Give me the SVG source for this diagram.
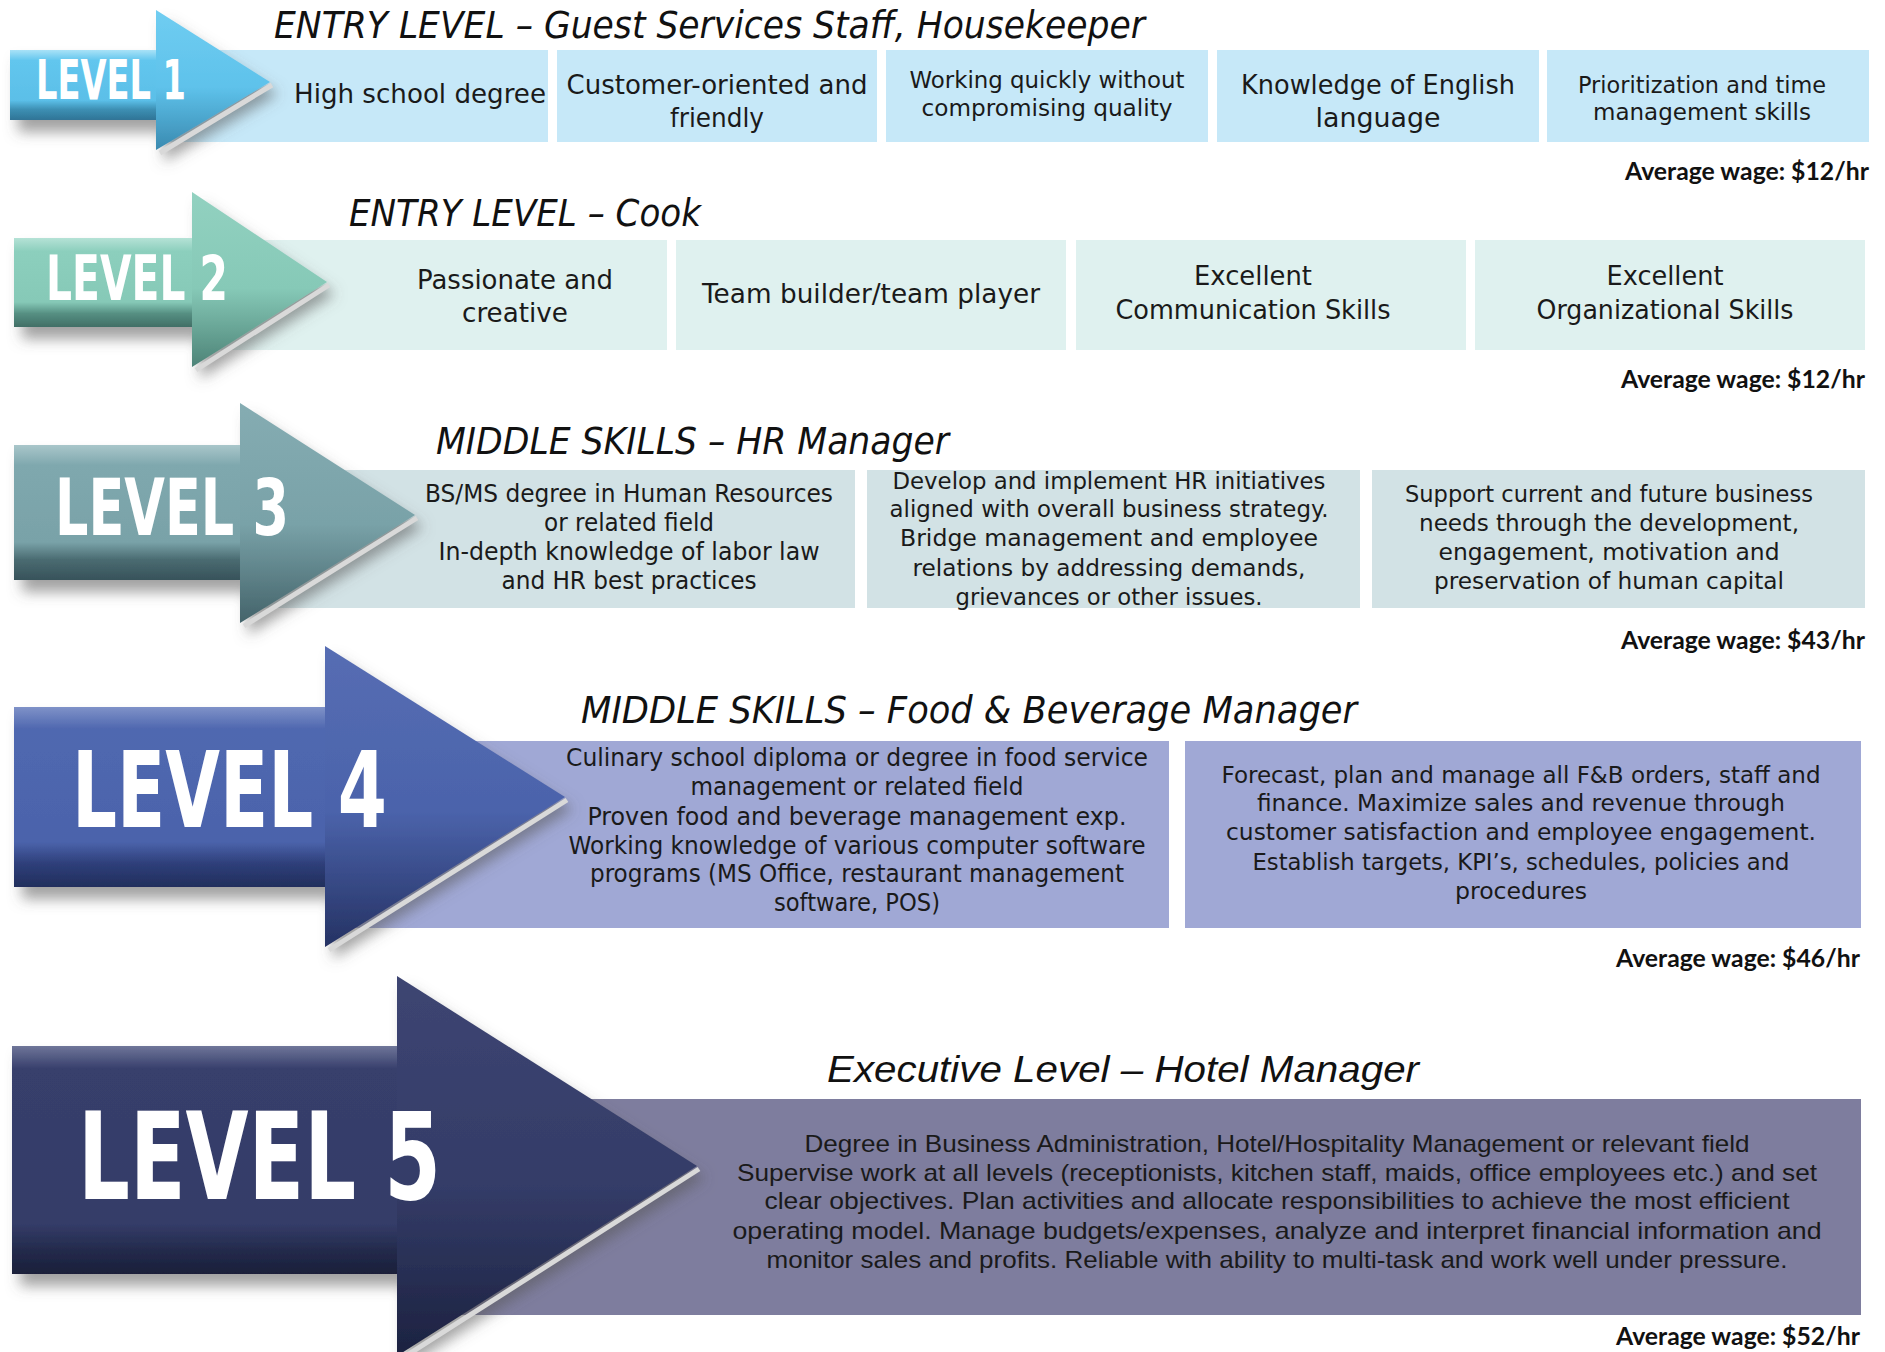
<svg xmlns="http://www.w3.org/2000/svg" width="1885" height="1352" viewBox="0 0 1885 1352">
<style>
.lvl{font-family:"Liberation Sans Narrow","DejaVu Sans Condensed","Liberation Sans",sans-serif;font-weight:bold;fill:#ffffff}
.ttl{font-family:"Liberation Sans Narrow","DejaVu Sans Condensed","Liberation Sans",sans-serif;font-style:italic;fill:#111;font-size:37px}
.ttl5{font-family:"Liberation Sans","DejaVu Sans",sans-serif;font-style:italic;fill:#111;font-size:36px}
.geo{font-family:"DejaVu Sans","Liberation Sans",sans-serif;fill:#1a1a1a;text-anchor:middle}
.cnd{font-family:"Liberation Sans Narrow","DejaVu Sans Condensed","Liberation Sans",sans-serif;fill:#1a1a1a;text-anchor:middle;font-size:25px}
.nar{font-family:"Liberation Sans","DejaVu Sans",sans-serif;fill:#1a1a1a;text-anchor:middle;font-size:24px}
.wage{font-family:"Lato","Open Sans",sans-serif;font-weight:bold;font-size:24px;fill:#111;text-anchor:end}
.bevel{fill:none;stroke:#d9d9d9;stroke-width:5}
</style>
<defs>
<filter id="sh" x="-10%" y="-10%" width="130%" height="140%">
<feDropShadow dx="8" dy="12" stdDeviation="7" flood-color="#555" flood-opacity="0.55"/>
</filter>
<linearGradient id="s1" x1="0" y1="0" x2="0" y2="1"><stop offset="0" stop-color="#a9e2f7"/><stop offset="0.15" stop-color="#62c6ee"/><stop offset="0.72" stop-color="#5bbfe8"/><stop offset="0.85" stop-color="#3d8fb3"/><stop offset="1" stop-color="#2f7496"/></linearGradient>
<linearGradient id="h1" x1="0" y1="0" x2="0" y2="1"><stop offset="0" stop-color="#70cdf1"/><stop offset="0.55" stop-color="#5ec2eb"/><stop offset="1" stop-color="#3a8ab0"/></linearGradient>
<linearGradient id="s2" x1="0" y1="0" x2="0" y2="1"><stop offset="0" stop-color="#b5e2d6"/><stop offset="0.15" stop-color="#8ccfbd"/><stop offset="0.72" stop-color="#86c9b7"/><stop offset="0.85" stop-color="#558f82"/><stop offset="1" stop-color="#416f66"/></linearGradient>
<linearGradient id="h2" x1="0" y1="0" x2="0" y2="1"><stop offset="0" stop-color="#92d1c0"/><stop offset="0.55" stop-color="#86c9b7"/><stop offset="1" stop-color="#4d8377"/></linearGradient>
<linearGradient id="s3" x1="0" y1="0" x2="0" y2="1"><stop offset="0" stop-color="#a9c6ca"/><stop offset="0.15" stop-color="#7fa8ae"/><stop offset="0.72" stop-color="#79a2a8"/><stop offset="0.85" stop-color="#4a6b71"/><stop offset="1" stop-color="#37525a"/></linearGradient>
<linearGradient id="h3" x1="0" y1="0" x2="0" y2="1"><stop offset="0" stop-color="#85acb2"/><stop offset="0.55" stop-color="#79a2a8"/><stop offset="1" stop-color="#44636a"/></linearGradient>
<linearGradient id="s4" x1="0" y1="0" x2="0" y2="1"><stop offset="0" stop-color="#7f92c8"/><stop offset="0.12" stop-color="#5068b0"/><stop offset="0.75" stop-color="#4b63ab"/><stop offset="0.87" stop-color="#2e3f7a"/><stop offset="1" stop-color="#222e5c"/></linearGradient>
<linearGradient id="h4" x1="0" y1="0" x2="0" y2="1"><stop offset="0" stop-color="#566db3"/><stop offset="0.55" stop-color="#4b63ab"/><stop offset="1" stop-color="#253263"/></linearGradient>
<linearGradient id="s5" x1="0" y1="0" x2="0" y2="1"><stop offset="0" stop-color="#6f7699"/><stop offset="0.1" stop-color="#373f6c"/><stop offset="0.78" stop-color="#343c68"/><stop offset="0.9" stop-color="#232a4b"/><stop offset="1" stop-color="#1a1f3a"/></linearGradient>
<linearGradient id="h5" x1="0" y1="0" x2="0" y2="1"><stop offset="0" stop-color="#3d4572"/><stop offset="0.55" stop-color="#343c68"/><stop offset="1" stop-color="#1c2240"/></linearGradient>
</defs>
<rect width="1885" height="1352" fill="#ffffff"/>

<g id="level1">
<text class="ttl" x="274" y="38" textLength="871" lengthAdjust="spacingAndGlyphs">ENTRY LEVEL – Guest Services Staff, Housekeeper</text>
<g id="l1b1"><rect x="156" y="50" width="392" height="92" fill="#c6e8f8"/><text class="geo" x="420" y="103" font-size="27" textLength="252" lengthAdjust="spacingAndGlyphs">High school degree</text></g>
<g id="l1b2"><rect x="557" y="50" width="320" height="92" fill="#c6e8f8"/><text class="geo" x="717" y="94" font-size="27" textLength="301" lengthAdjust="spacingAndGlyphs">Customer-oriented and</text><text class="geo" x="717" y="127" font-size="27" textLength="94" lengthAdjust="spacingAndGlyphs">friendly</text></g>
<g id="l1b3"><rect x="886" y="50" width="322" height="92" fill="#c6e8f8"/><text class="geo" x="1047" y="88" font-size="23" textLength="275" lengthAdjust="spacingAndGlyphs">Working quickly without</text><text class="geo" x="1047" y="116" font-size="23" textLength="251" lengthAdjust="spacingAndGlyphs">compromising quality</text></g>
<g id="l1b4"><rect x="1217" y="50" width="322" height="92" fill="#c6e8f8"/><text class="geo" x="1378" y="94" font-size="27" textLength="274" lengthAdjust="spacingAndGlyphs">Knowledge of English</text><text class="geo" x="1378" y="127" font-size="27" textLength="125" lengthAdjust="spacingAndGlyphs">language</text></g>
<g id="l1b5"><rect x="1547" y="50" width="322" height="92" fill="#c6e8f8"/><text class="geo" x="1702" y="93" font-size="23" textLength="248" lengthAdjust="spacingAndGlyphs">Prioritization and time</text><text class="geo" x="1702" y="120" font-size="23" textLength="218" lengthAdjust="spacingAndGlyphs">management skills</text></g>
<g id="l1arrow" filter="url(#sh)"><rect x="10" y="50" width="150" height="70" fill="url(#s1)"/><polygon points="156,10 270,82 156,150" fill="url(#h1)"/></g>
<polyline class="bevel" points="272,85 160,153"/>
<text class="lvl" x="36" y="99" font-size="56" textLength="150" lengthAdjust="spacingAndGlyphs">LEVEL 1</text>
<text class="wage" x="1869" y="180" textLength="244" lengthAdjust="spacingAndGlyphs">Average wage: $12/hr</text>
</g>

<g id="level2">
<text class="ttl" x="349" y="226" textLength="352" lengthAdjust="spacingAndGlyphs">ENTRY LEVEL – Cook</text>
<g id="l2b1"><rect x="192" y="240" width="475" height="110" fill="#dff1ef"/><text class="geo" x="515" y="289" font-size="27" textLength="196" lengthAdjust="spacingAndGlyphs">Passionate and</text><text class="geo" x="515" y="322" font-size="27" textLength="106" lengthAdjust="spacingAndGlyphs">creative</text></g>
<g id="l2b2"><rect x="676" y="240" width="390" height="110" fill="#dff1ef"/><text class="geo" x="871" y="303" font-size="27" textLength="338" lengthAdjust="spacingAndGlyphs">Team builder/team player</text></g>
<g id="l2b3"><rect x="1076" y="240" width="390" height="110" fill="#dff1ef"/><text class="geo" x="1253" y="285" font-size="27" textLength="118" lengthAdjust="spacingAndGlyphs">Excellent</text><text class="geo" x="1253" y="319" font-size="27" textLength="275" lengthAdjust="spacingAndGlyphs">Communication Skills</text></g>
<g id="l2b4"><rect x="1475" y="240" width="390" height="110" fill="#dff1ef"/><text class="geo" x="1665" y="285" font-size="27" textLength="117" lengthAdjust="spacingAndGlyphs">Excellent</text><text class="geo" x="1665" y="319" font-size="27" textLength="257" lengthAdjust="spacingAndGlyphs">Organizational Skills</text></g>
<g id="l2arrow" filter="url(#sh)"><rect x="14" y="238" width="182" height="89" fill="url(#s2)"/><polygon points="192,192 327,282 192,367" fill="url(#h2)"/></g>
<polyline class="bevel" points="329,285 196,370"/>
<text class="lvl" x="46" y="300" font-size="63" textLength="182" lengthAdjust="spacingAndGlyphs">LEVEL 2</text>
<text class="wage" x="1865" y="388" textLength="244" lengthAdjust="spacingAndGlyphs">Average wage: $12/hr</text>
</g>

<g id="level3">
<text class="ttl" x="436" y="454" textLength="513" lengthAdjust="spacingAndGlyphs">MIDDLE SKILLS – HR Manager</text>
<g id="l3b1"><rect x="240" y="470" width="615" height="138" fill="#d2e2e5"/>
<text class="cnd" x="629" y="502" textLength="408" lengthAdjust="spacingAndGlyphs">BS/MS degree in Human Resources</text>
<text class="cnd" x="629" y="531" textLength="170" lengthAdjust="spacingAndGlyphs">or related field</text>
<text class="cnd" x="629" y="560" textLength="381" lengthAdjust="spacingAndGlyphs">In-depth knowledge of labor law</text>
<text class="cnd" x="629" y="589" textLength="255" lengthAdjust="spacingAndGlyphs">and HR best practices</text></g>
<g id="l3b2"><rect x="867" y="470" width="493" height="138" fill="#d2e2e5"/>
<text class="geo" x="1109" y="489" font-size="23" textLength="433" lengthAdjust="spacingAndGlyphs">Develop and implement HR initiatives</text>
<text class="geo" x="1109" y="517" font-size="23" textLength="439" lengthAdjust="spacingAndGlyphs">aligned with overall business strategy.</text>
<text class="geo" x="1109" y="546" font-size="23" textLength="418" lengthAdjust="spacingAndGlyphs">Bridge management and employee</text>
<text class="geo" x="1109" y="576" font-size="23" textLength="393" lengthAdjust="spacingAndGlyphs">relations by addressing demands,</text>
<text class="geo" x="1109" y="605" font-size="23" textLength="307" lengthAdjust="spacingAndGlyphs">grievances or other issues.</text></g>
<g id="l3b3"><rect x="1372" y="470" width="493" height="138" fill="#d2e2e5"/>
<text class="geo" x="1609" y="502" font-size="23" textLength="408" lengthAdjust="spacingAndGlyphs">Support current and future business</text>
<text class="geo" x="1609" y="531" font-size="23" textLength="380" lengthAdjust="spacingAndGlyphs">needs through the development,</text>
<text class="geo" x="1609" y="560" font-size="23" textLength="341" lengthAdjust="spacingAndGlyphs">engagement, motivation and</text>
<text class="geo" x="1609" y="589" font-size="23" textLength="350" lengthAdjust="spacingAndGlyphs">preservation of human capital</text></g>
<g id="l3arrow" filter="url(#sh)"><rect x="14" y="445" width="230" height="135" fill="url(#s3)"/><polygon points="240,403 415,515 240,623" fill="url(#h3)"/></g>
<polyline class="bevel" points="417,518 244,626"/>
<text class="lvl" x="55" y="535" font-size="79" textLength="234" lengthAdjust="spacingAndGlyphs">LEVEL 3</text>
<text class="wage" x="1865" y="649" textLength="244" lengthAdjust="spacingAndGlyphs">Average wage: $43/hr</text>
</g>

<g id="level4">
<text class="ttl" x="581" y="723" textLength="776" lengthAdjust="spacingAndGlyphs">MIDDLE SKILLS – Food &amp; Beverage Manager</text>
<g id="l4b1"><rect x="325" y="741" width="844" height="187" fill="#a0a8d5"/>
<text class="cnd" x="857" y="766" textLength="582" lengthAdjust="spacingAndGlyphs">Culinary school diploma or degree in food service</text>
<text class="cnd" x="857" y="795" textLength="333" lengthAdjust="spacingAndGlyphs">management or related field</text>
<text class="cnd" x="857" y="825" textLength="539" lengthAdjust="spacingAndGlyphs">Proven food and beverage management exp.</text>
<text class="cnd" x="857" y="854" textLength="577" lengthAdjust="spacingAndGlyphs">Working knowledge of various computer software</text>
<text class="cnd" x="857" y="882" textLength="534" lengthAdjust="spacingAndGlyphs">programs (MS Office, restaurant management</text>
<text class="cnd" x="857" y="911" textLength="166" lengthAdjust="spacingAndGlyphs">software, POS)</text></g>
<g id="l4b2"><rect x="1185" y="741" width="676" height="187" fill="#a0a8d5"/>
<text class="geo" x="1521" y="783" font-size="23" textLength="599" lengthAdjust="spacingAndGlyphs">Forecast, plan and manage all F&amp;B orders, staff and</text>
<text class="geo" x="1521" y="811" font-size="23" textLength="528" lengthAdjust="spacingAndGlyphs">finance. Maximize sales and revenue through</text>
<text class="geo" x="1521" y="840" font-size="23" textLength="590" lengthAdjust="spacingAndGlyphs">customer satisfaction and employee engagement.</text>
<text class="geo" x="1521" y="870" font-size="23" textLength="537" lengthAdjust="spacingAndGlyphs">Establish targets, KPI’s, schedules, policies and</text>
<text class="geo" x="1521" y="899" font-size="23" textLength="132" lengthAdjust="spacingAndGlyphs">procedures</text></g>
<g id="l4arrow" filter="url(#sh)"><rect x="14" y="707" width="315" height="180" fill="url(#s4)"/><polygon points="325,646 565,797 325,947" fill="url(#h4)"/></g>
<polyline class="bevel" points="567,800 329,950"/>
<text class="lvl" x="72" y="827" font-size="105" textLength="315" lengthAdjust="spacingAndGlyphs">LEVEL 4</text>
<text class="wage" x="1860" y="967" textLength="244" lengthAdjust="spacingAndGlyphs">Average wage: $46/hr</text>
</g>

<g id="level5">
<text class="ttl5" x="827" y="1082" textLength="592" lengthAdjust="spacingAndGlyphs">Executive Level – Hotel Manager</text>
<g id="l5b1"><rect x="397" y="1099" width="1464" height="216" fill="#7e7d9e"/>
<text class="nar" x="1277" y="1152" textLength="945" lengthAdjust="spacingAndGlyphs">Degree in Business Administration, Hotel/Hospitality Management or relevant field</text>
<text class="nar" x="1277" y="1181" textLength="1080" lengthAdjust="spacingAndGlyphs">Supervise work at all levels (receptionists, kitchen staff, maids, office employees etc.) and set</text>
<text class="nar" x="1277" y="1209" textLength="1025" lengthAdjust="spacingAndGlyphs">clear objectives. Plan activities and allocate responsibilities to achieve the most efficient</text>
<text class="nar" x="1277" y="1239" textLength="1089" lengthAdjust="spacingAndGlyphs">operating model. Manage budgets/expenses, analyze and interpret financial information and</text>
<text class="nar" x="1277" y="1268" textLength="1021" lengthAdjust="spacingAndGlyphs">monitor sales and profits. Reliable with ability to multi-task and work well under pressure.</text></g>
<g id="l5arrow" filter="url(#sh)"><rect x="12" y="1046" width="389" height="228" fill="url(#s5)"/><polygon points="397,976 697,1166 397,1356" fill="url(#h5)"/></g>
<polyline class="bevel" points="699,1169 401,1359"/>
<text class="lvl" x="78" y="1199" font-size="121" textLength="363" lengthAdjust="spacingAndGlyphs">LEVEL 5</text>
<text class="wage" x="1860" y="1345" textLength="244" lengthAdjust="spacingAndGlyphs">Average wage: $52/hr</text>
</g>
</svg>
